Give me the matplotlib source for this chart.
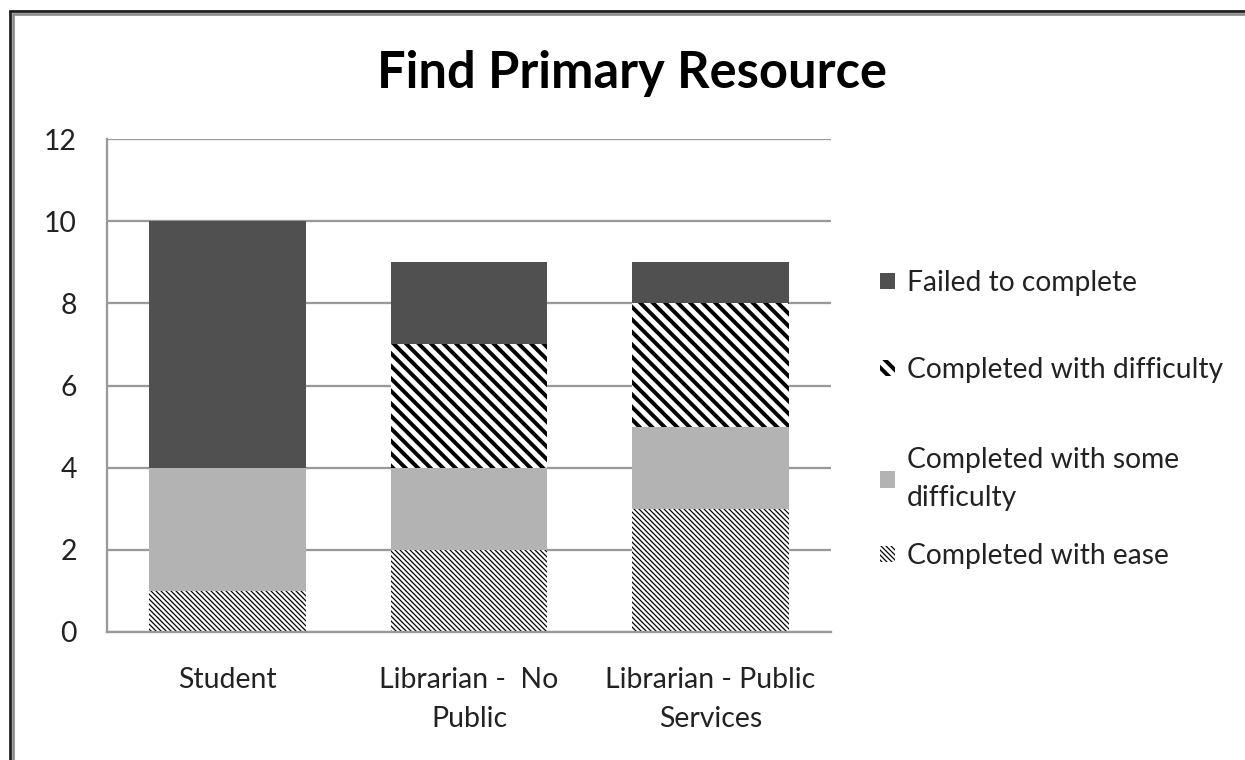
import matplotlib
matplotlib.use("Agg")
import matplotlib.pyplot as plt
from matplotlib.patches import Rectangle
import numpy as np

# data
categories = ["Student", "Librarian -  No\nPublic", "Librarian - Public\nServices"]
ease = [1, 2, 3]
some_difficulty = [3, 2, 2]
difficulty = [0, 3, 3]
failed = [6, 2, 1]
series_labels = ["Completed with ease", "Completed with some\ndifficulty",
                 "Completed with difficulty", "Failed to complete"]
yticks = [0, 2, 4, 6, 8, 10, 12]

# styles (bottom to top)
colors = ["white", "#b3b3b3", "white", "#505050"]
hatches = ["\\" * 10, None, "\\" * 4, None]
hatch_lws = [0.6, 1.0, 1.9, 1.0]

W, H, DPI = 1245, 760, 150
plt.rcParams["font.family"] = ["Lato", "DejaVu Sans"]
fig = plt.figure(figsize=(W / DPI, H / DPI), dpi=DPI)
renderer = fig.canvas.get_renderer()


def fit_size(text, target_px, **kw):
    # font size (pt) so that text is target_px wide
    t = fig.text(0, 0, text, fontsize=20, **kw)
    w = t.get_window_extent(renderer=renderer).width
    t.remove()
    return 20 * target_px / w


title_size = fit_size("Find Primary Resource", 510, fontweight="bold")
tick_size = fit_size("Student", 98)
leg_size = fit_size("Failed to complete", 230)
leg_px = leg_size * DPI / 72

ax = fig.add_axes([107 / W, 1 - 632 / H, (831 - 107) / W, (632 - 139) / H])

x = np.arange(len(categories))
bottom = np.zeros(len(categories))
handles = []
for vals, lab, col, hat, hlw in zip([ease, some_difficulty, difficulty, failed],
                                    series_labels, colors, hatches, hatch_lws):
    with plt.rc_context({"hatch.linewidth": hlw}):
        bars = ax.bar(x, vals, 0.65, bottom=bottom, color=col, hatch=hat,
                      edgecolor="black", linewidth=0, zorder=2, label=lab)
        for b in bars:
            if hasattr(b, "set_hatch_linewidth"):
                b.set_hatch_linewidth(hlw)
    handles.append(bars)
    bottom += np.array(vals)

ax.set_xlim(-0.5, len(categories) - 0.5)
ax.set_ylim(0, 12)
ax.set_yticks(yticks)
ax.set_xticks(x)
ax.set_xticklabels(categories, fontsize=tick_size, color="#222222", linespacing=1.6)
ax.tick_params(axis="y", length=0, pad=14.4, labelsize=tick_size, labelcolor="#222222")
ax.tick_params(axis="x", length=0, pad=17)
ax.grid(axis="y", color="#999999", linewidth=1.1, zorder=0)
ax.set_axisbelow(True)
for s in ["top", "right"]:
    ax.spines[s].set_visible(False)
for s in ["left", "bottom"]:
    ax.spines[s].set_color("#999999")
    ax.spines[s].set_linewidth(1.1)

fig.text(632 / W, 1 - 88 / H, "Find Primary Resource", fontsize=title_size,
         fontweight="bold", ha="center", va="baseline", color="black")

# legend, one entry per row like the original
legend_rows = [283, 370, 479, 556]
for i, row in zip([3, 2, 1, 0], legend_rows):
    with plt.rc_context({"hatch.linewidth": hatch_lws[i]}):
        lg = fig.legend([handles[i]], [series_labels[i]], loc="center left",
                        bbox_to_anchor=(880 / W, 1 - row / H), frameon=False,
                        borderpad=0, borderaxespad=0, handlelength=15 / leg_px,
                        handleheight=15 / leg_px, handletextpad=12 / leg_px,
                        prop={"size": leg_size})
        for t in lg.get_texts():
            t.set_linespacing(1.6)
            t.set_color("#222222")
        for p in lg.get_patches():
            if hasattr(p, "set_hatch_linewidth"):
                p.set_hatch_linewidth(hatch_lws[i])

# outer frame (only top and left edges are visible in the original)
fig.add_artist(Rectangle((9.7 / W, -0.1), 1.2, 1.1 - 11.3 / H, fill=False,
                         edgecolor="#1a1a1a", linewidth=1.3, transform=fig.transFigure))
fig.add_artist(Rectangle((12.5 / W, -0.1), 1.2, 1.1 - 14 / H, fill=False,
                         edgecolor="#8c8c8c", linewidth=1.3, transform=fig.transFigure))

fig.savefig("out.png", dpi=DPI)
